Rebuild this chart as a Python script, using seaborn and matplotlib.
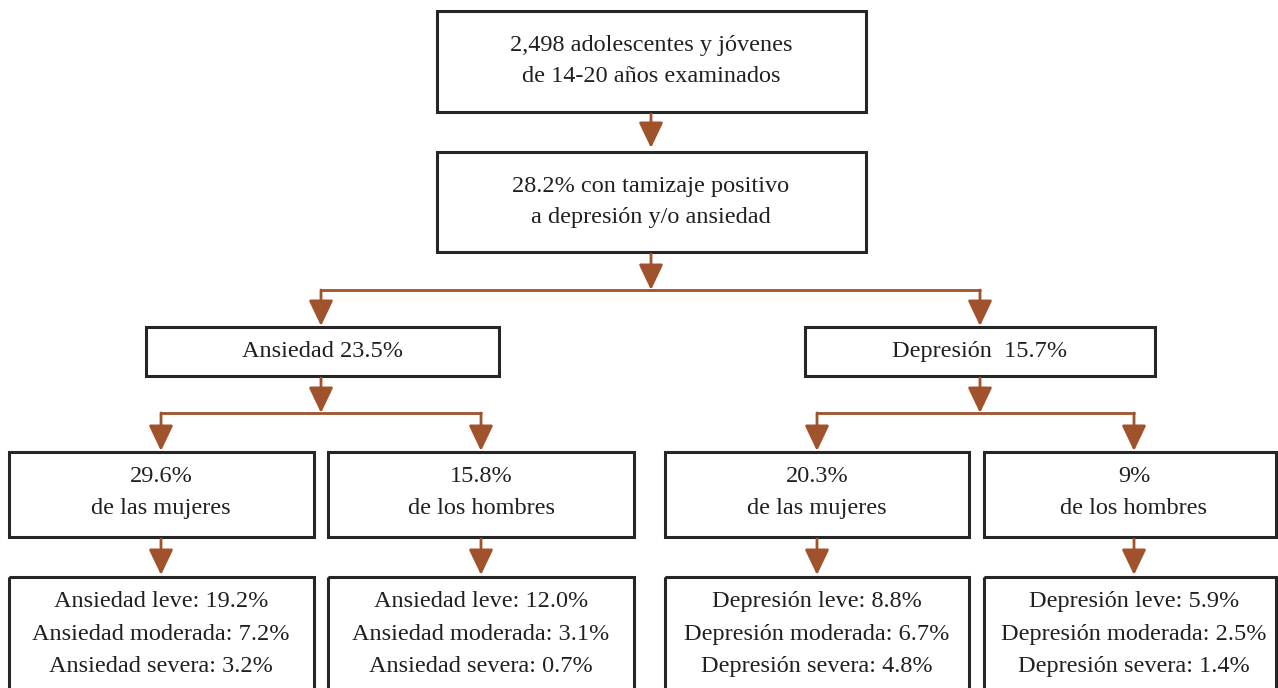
import matplotlib
matplotlib.use('Agg')
from matplotlib import pyplot as plt
from matplotlib.patches import Rectangle, FancyArrowPatch
import seaborn as sns

sns.set_style('white')
plt.rcParams['font.family'] = ['Liberation Serif', 'DejaVu Serif']

# Flowchart texts
top_text = ['2,498 adolescentes y jóvenes', 'de 14-20 años examinados']
screen_text = ['28.2% con tamizaje positivo', 'a depresión y/o ansiedad']
branch_text = ['Ansiedad 23.5%', 'Depresión  15.7%']
sex_pct = ['29.6%', '15.8%', '20.3%', '9%']
sex_label = ['de las mujeres', 'de los hombres', 'de las mujeres', 'de los hombres']
detail_text = [
    ['Ansiedad leve: 19.2%', 'Ansiedad moderada: 7.2%', 'Ansiedad severa: 3.2%'],
    ['Ansiedad leve: 12.0%', 'Ansiedad moderada: 3.1%', 'Ansiedad severa: 0.7%'],
    ['Depresión leve: 8.8%', 'Depresión moderada: 6.7%', 'Depresión severa: 4.8%'],
    ['Depresión leve: 5.9%', 'Depresión moderada: 2.5%', 'Depresión severa: 1.4%'],
]

ARROW = '#a0522d'
EDGE = '#262626'
FS = 17.5

fig = plt.figure(figsize=(12.78, 6.88), dpi=100)
ax = fig.add_axes([0, 0, 1, 1])
ax.set_xlim(0, 1278)
ax.set_ylim(688, 0)
ax.axis('off')


def box(x0, x1, y0, y1):
    ax.add_patch(Rectangle((x0, y0), x1 - x0, y1 - y0, fill=False,
                           edgecolor=EDGE, lw=2.2, clip_on=True))


def lines(xc, ys, texts):
    # ys are baselines
    for y, t in zip(ys, texts):
        ax.text(xc, y, t, ha='center', va='baseline', fontsize=FS, color='#231f20')


def arrow(x, y0, y1):
    ax.add_patch(FancyArrowPatch((x, y0), (x, y1), arrowstyle='-|>,head_length=1.05,head_width=0.5',
                                 mutation_scale=15, color=ARROW, lw=2.0, shrinkA=0, shrinkB=0))


def hline(x0, x1, y):
    ax.plot([x0 - 1, x1 + 1], [y, y], color=ARROW, lw=2.0, solid_capstyle='butt')


# top boxes
box(437, 866, 11, 112)
lines(651, [51, 82], top_text)
arrow(651, 114, 148)
box(437, 866, 152, 252)
lines(651, [192, 223], screen_text)
arrow(651, 254, 290)
hline(321, 980, 290)
arrow(321, 290, 326)
arrow(980, 290, 326)

# branch boxes
branch_x = [(146, 499), (805, 1155)]
for (x0, x1), t in zip(branch_x, branch_text):
    box(x0, x1, 327, 376)
    lines((x0 + x1) / 2, [357], [t])

sex_x = [(9, 314), (328, 634), (665, 969), (984, 1276)]
centers = [161, 481, 817, 1134]

for i, xc in enumerate([321, 980]):
    arrow(xc, 378, 413)
    hline(centers[2 * i], centers[2 * i + 1], 413)
    arrow(centers[2 * i], 413, 451)
    arrow(centers[2 * i + 1], 413, 451)

for (x0, x1), xc, p, l, d in zip(sex_x, centers, sex_pct, sex_label, detail_text):
    box(x0, x1, 452, 537)
    lines(xc, [482, 514], [p, l])
    arrow(xc, 539, 575)
    box(x0, x1, 577, 700)
    lines(xc, [607, 640, 672], d)

fig.savefig('out.png', dpi=100, facecolor='white')
